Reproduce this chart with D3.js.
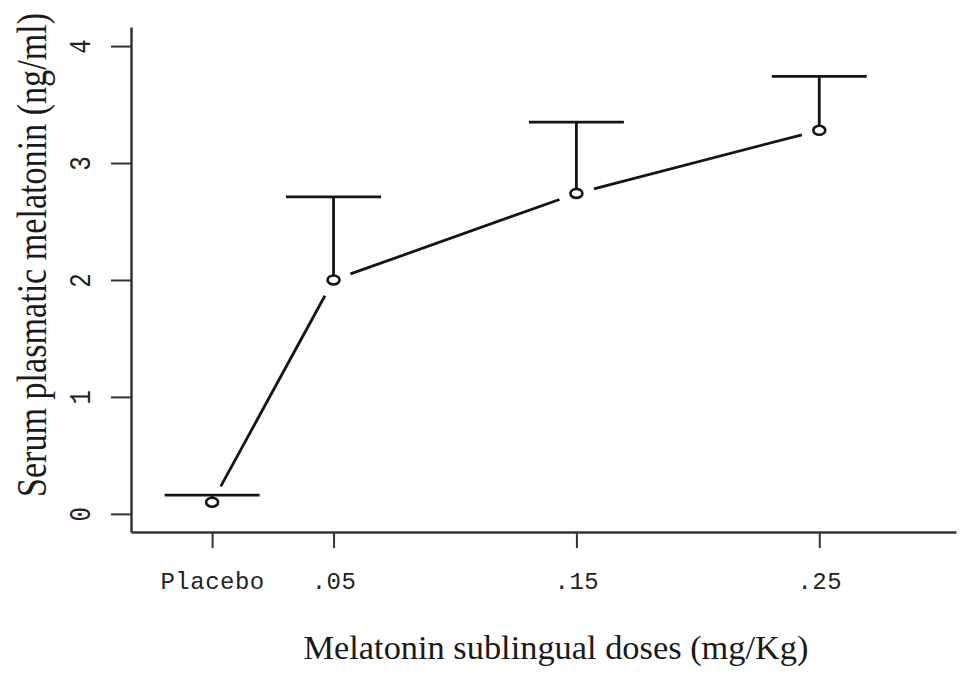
<!DOCTYPE html>
<html>
<head>
<meta charset="utf-8">
<script src="https://cdn.jsdelivr.net/npm/d3@7"></script>
<style>
  body { margin: 0; background: #fff; }
  svg { display: block; }
</style>
</head>
<body>
<svg id="chart" width="961" height="677"></svg>
<script>
// doses (mg/Kg), placebo drawn at 0
var doses = [0, 0.05, 0.15, 0.25];
var doseLabels = ["Placebo", ".05", ".15", ".25"];
var means = [0.10, 2.00, 2.74, 3.28];
var upper = [0.16, 2.71, 3.35, 3.74];   // top of error bars
var yTicks = [0, 1, 2, 3, 4];

var svg = d3.select("#chart");
var ink = "#151515";

var x = d3.scaleLinear().domain([-0.0334, 0.3063]).range([131, 956]);
var y = d3.scaleLinear().domain([-0.155, 4.163]).range([532, 27]);

// x axis
var xAxis = d3.axisBottom(x)
    .tickValues(doses)
    .tickFormat(function(d, i) { return doseLabels[i]; })
    .tickSizeInner(16).tickSizeOuter(0).tickPadding(24);
var gx = svg.append("g").attr("transform", "translate(0,532)").call(xAxis);
gx.select(".domain").attr("stroke", "#333").attr("stroke-width", 2.5);
gx.selectAll(".tick line").attr("stroke", "#333").attr("stroke-width", 2);
gx.selectAll(".tick text")
    .attr("fill", "#222")
    .style("font-family", "'Liberation Mono', monospace")
    .style("font-size", "24px")
    .style("letter-spacing", "0.5px");

// y axis
var yAxis = d3.axisLeft(y).tickValues(yTicks).tickFormat(d3.format("d"))
    .tickSizeInner(20).tickSizeOuter(0);
var gy = svg.append("g").attr("transform", "translate(131,0)").call(yAxis);
gy.select(".domain").attr("stroke", "#333").attr("stroke-width", 2.5);
gy.selectAll(".tick line").attr("stroke", "#333").attr("stroke-width", 2);
gy.selectAll(".tick text")
    .attr("x", null).attr("dy", null)
    .attr("text-anchor", "middle")
    .attr("transform", "translate(-41,0) rotate(-90) scale(1,1.25)")
    .attr("fill", "#222")
    .style("font-family", "'Liberation Mono', monospace")
    .style("font-size", "24px");

// error bars (upper only)
var capHalf = 47.5;
var bars = svg.append("g").attr("stroke", ink).attr("stroke-width", 2.8);
doses.forEach(function(d, i) {
  bars.append("line")
    .attr("x1", x(d)).attr("x2", x(d))
    .attr("y1", y(means[i])).attr("y2", y(upper[i]));
  bars.append("line")
    .attr("x1", x(d) - capHalf).attr("x2", x(d) + capHalf)
    .attr("y1", y(upper[i])).attr("y2", y(upper[i]));
});

// line with gaps around the points (type "b")
var gap = 18;
var lines = svg.append("g").attr("stroke", ink).attr("stroke-width", 2.8);
for (var i = 0; i < doses.length - 1; i++) {
  var x1 = x(doses[i]), y1 = y(means[i]), x2 = x(doses[i + 1]), y2 = y(means[i + 1]);
  var len = Math.hypot(x2 - x1, y2 - y1);
  var ux = (x2 - x1) / len, uy = (y2 - y1) / len;
  lines.append("line")
    .attr("x1", x1 + ux * gap).attr("y1", y1 + uy * gap)
    .attr("x2", x2 - ux * gap).attr("y2", y2 - uy * gap);
}

// point markers
svg.append("g").selectAll("ellipse")
  .data(doses)
  .join("ellipse")
    .attr("cx", function(d) { return x(d); })
    .attr("cy", function(d, i) { return y(means[i]); })
    .attr("rx", 6).attr("ry", 4.5)
    .attr("fill", "#fff")
    .attr("stroke", ink).attr("stroke-width", 2.6);

// axis titles
svg.append("text")
    .attr("x", 556).attr("y", 659)
    .attr("text-anchor", "middle")
    .attr("textLength", 505).attr("lengthAdjust", "spacingAndGlyphs")
    .attr("fill", "#1a1a1a")
    .style("font-family", "'Liberation Serif', 'Times New Roman', serif")
    .style("font-size", "33px")
    .text("Melatonin sublingual doses (mg/Kg)");

svg.append("text")
    .attr("transform", "translate(46,255) rotate(-90) scale(1,1.3)")
    .attr("text-anchor", "middle")
    .attr("textLength", 484).attr("lengthAdjust", "spacingAndGlyphs")
    .attr("fill", "#1a1a1a")
    .style("font-family", "'Liberation Serif', 'Times New Roman', serif")
    .style("font-size", "33px")
    .text("Serum plasmatic melatonin (ng/ml)");
</script>
</body>
</html>
